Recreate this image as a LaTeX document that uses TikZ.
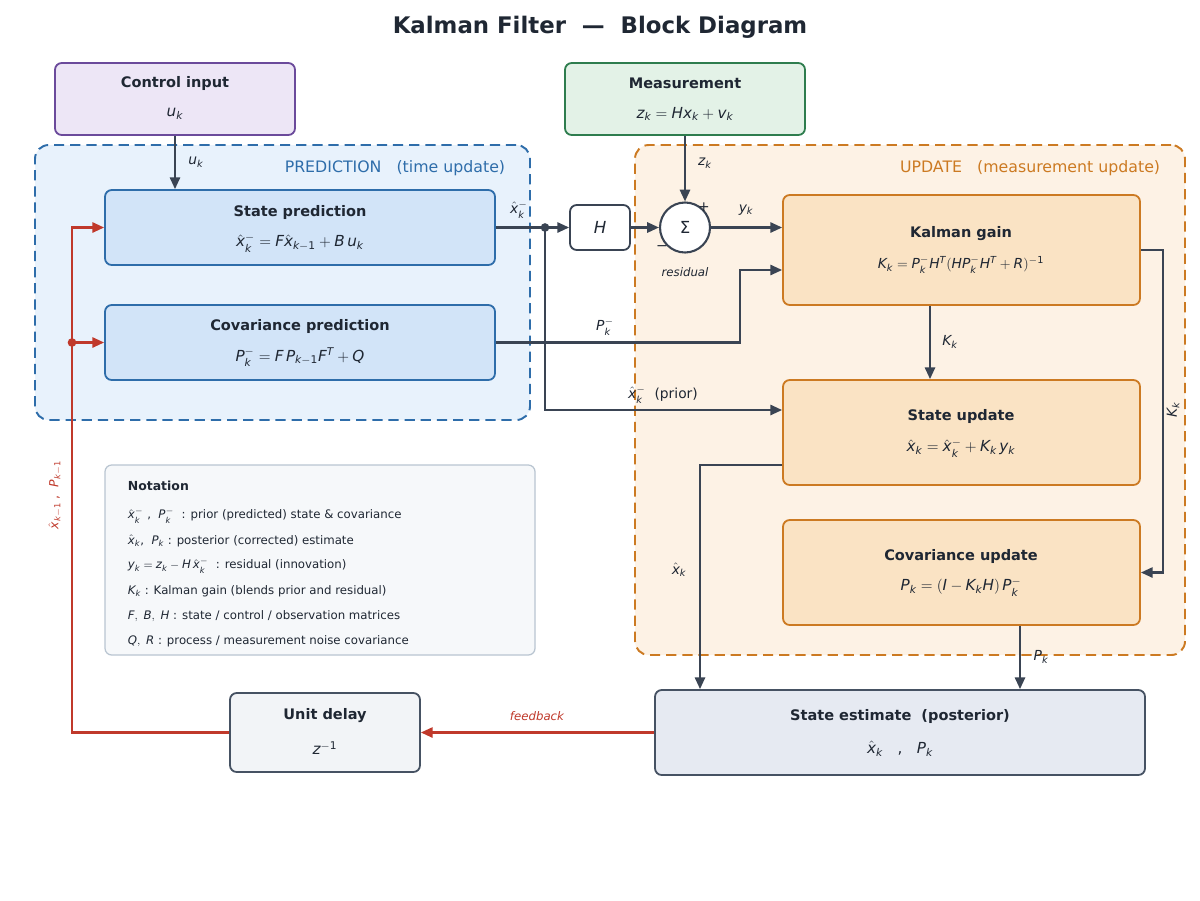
\documentclass[tikz,border=0pt]{standalone}
\usepackage{mathspec}
\setmainfont{DejaVu Sans}
\setmathsfont(Digits,Latin,Greek){DejaVu Sans}
\usepackage{xcolor}
\usepackage{tikz}
\usetikzlibrary{positioning,arrows.meta,fit,calc}
\definecolor{ink}{HTML}{1F2733}
\definecolor{wire}{HTML}{3A4453}
\definecolor{fbred}{HTML}{C0392B}
\definecolor{ctrlfill}{HTML}{EDE6F6}
\definecolor{ctrlline}{HTML}{6B4A9B}
\definecolor{measfill}{HTML}{E3F2E7}
\definecolor{measline}{HTML}{2E7D4E}
\definecolor{predfill}{HTML}{E8F2FC}
\definecolor{predline}{HTML}{2E6DAA}
\definecolor{boxblue}{HTML}{D2E4F8}
\definecolor{updfill}{HTML}{FDF2E5}
\definecolor{updline}{HTML}{CC7A22}
\definecolor{boxorange}{HTML}{FAE3C4}
\definecolor{estfill}{HTML}{E6EAF2}
\definecolor{estline}{HTML}{465263}
\definecolor{delayfill}{HTML}{F2F4F7}
\definecolor{notefill}{HTML}{F6F8FA}
\definecolor{noteline}{HTML}{B9C5D1}
\tikzset{
  box/.style={draw, rounded corners=1.7mm, line width=1.3pt, inner sep=0pt},
  panel/.style={draw, dash pattern=on 2.6mm off 1.5mm, rounded corners=3.5mm, line width=1.4pt, inner sep=0pt},
  wireto/.style={draw=wire, line width=1.6pt, -{Triangle[length=3mm,width=2.6mm]}},
  fbwire/.style={draw=fbred, line width=1.6pt, -{Triangle[length=3mm,width=2.6mm]}},
  ttl/.style={font=\fontsize{10.5}{12}\selectfont\bfseries, text=ink},
  eq/.style={font=\fontsize{11}{13}\selectfont, text=ink},
  lbl/.style={font=\fontsize{10}{12}\selectfont, text=ink},
  note/.style={font=\fontsize{8.5}{10}\selectfont, text=ink, anchor=west},
}
\begin{document}
\begin{tikzpicture}[x=0.254mm, y=-0.254mm]
\useasboundingbox (0,0) rectangle (1200,900);
\fill[white] (0,0) rectangle (1200,900);
\node[font=\fontsize{16.5}{19}\selectfont\bfseries, text=ink] (title) at (600,27) {Kalman Filter \ — \ Block Diagram};
% panels
\node[panel, draw=predline, fill=predfill, fit={(35,145)(530,420)}] (pred) {};
\node[panel, draw=updline, fill=updfill, fit={(635,145)(1185,655)}] (upd) {};
\node[font=\fontsize{11.4}{13}\selectfont, text=predline, anchor=east] (predlbl) at (510,168) {PREDICTION \ \ (time update)};
\node[font=\fontsize{11.4}{13}\selectfont, text=updline, anchor=east] (updlbl) at (1165,168) {UPDATE \ \ (measurement update)};
% inputs
\node[box, draw=ctrlline, fill=ctrlfill, fit={(55,63)(295,135)}] (ctrl) {};
\node[ttl] (ctrl-t) at (175,83) {Control input};
\node[eq] (ctrl-e) at (175,114) {$u_k$};
\node[box, draw=measline, fill=measfill, fit={(565,63)(805,135)}] (meas) {};
\node[ttl] (meas-t) at (685,83) {Measurement};
\node[eq] (meas-e) at (685,114) {$z_k = Hx_k + v_k$};
% prediction blocks
\node[box, draw=predline, fill=boxblue, fit={(105,190)(495,265)}] (spred) {};
\node[ttl] (spred-t) at (300,212) {State prediction};
\node[eq] (spred-e) at (300,243) {$\hat{x}_k^- = F\hat{x}_{k-1} + B\,u_k$};
\node[box, draw=predline, fill=boxblue, fit={(105,305)(495,380)}] (cpred) {};
\node[ttl] (cpred-t) at (300,326) {Covariance prediction};
\node[eq] (cpred-e) at (300,357) {$P_k^- = F\,P_{k-1}F^T + Q$};
% H and sum
\node[box, draw=wire, fill=white, fit={(570,205)(630,250)}] (hblk) {};
\node[font=\fontsize{12}{14}\selectfont, text=ink] (hblk-t) at (hblk.center) {$H$};
\node[circle, draw=wire, fill=white, line width=1.5pt, minimum size=12.7mm, inner sep=0pt,
      font=\fontsize{12}{14}\selectfont, text=ink] (sum) at (685,227.5) {Σ};
\node[lbl] (plus) at (704,207) {+};
\node[lbl] (minus) at (662,248) {−};
\node[font=\fontsize{8.5}{10}\selectfont\itshape, text=ink] (resid) at (685,272) {residual};
% update blocks
\node[box, draw=updline, fill=boxorange, fit={(783,195)(1140,305)}] (kgain) {};
\node[ttl] (kgain-t) at (961,234) {Kalman gain};
\node[eq, font=\fontsize{10}{12}\selectfont] (kgain-e) at (961,265) {$K_k = P_k^- H^T(HP_k^- H^T + R)^{-1}$};
\node[box, draw=updline, fill=boxorange, fit={(783,380)(1140,485)}] (supd) {};
\node[ttl] (supd-t) at (961,416) {State update};
\node[eq] (supd-e) at (961,448) {$\hat{x}_k = \hat{x}_k^- + K_k\,y_k$};
\node[box, draw=updline, fill=boxorange, fit={(783,520)(1140,625)}] (cupd) {};
\node[ttl] (cupd-t) at (961,556) {Covariance update};
\node[eq] (cupd-e) at (961,587) {$P_k = (I - K_kH)\,P_k^-$};
% output and delay
\node[box, draw=estline, fill=estfill, fit={(655,690)(1145,775)}] (est) {};
\node[ttl] (est-t) at (900,716) {State estimate \ (posterior)};
\node[eq] (est-e) at (900,749) {$\hat{x}_k$ \ \ , \ \ $P_k$};
\node[box, draw=estline, fill=delayfill, fit={(230,693)(420,772)}] (delay) {};
\node[ttl] (delay-t) at (325,716) {Unit delay};
\node[eq] (delay-e) at (325,748) {$z^{-1}$};
% notation
\node[box, draw=noteline, fill=notefill, line width=0.9pt, fit={(105,465)(535,655)}] (notes) {};
\node[note, font=\fontsize{9}{11}\selectfont\bfseries] (notes-t) at (123,486) {Notation};
\node[note] (n1) at (123,516) {$\hat{x}_k^-$ , \ $P_k^-$ \ : prior (predicted) state \& covariance};
\node[note] (n2) at (123,541) {$\hat{x}_k$, \ $P_k$ : posterior (corrected) estimate};
\node[note] (n3) at (123,566) {$y_k = z_k - H\,\hat{x}_k^-$ \ : residual (innovation)};
\node[note] (n4) at (123,591) {$K_k$ : Kalman gain (blends prior and residual)};
\node[note] (n5) at (123,616) {$F,\ B,\ H$ : state / control / observation matrices};
\node[note] (n6) at (123,641) {$Q,\ R$ : process / measurement noise covariance};
% connectors
\coordinate (split) at (545,227.5);
\coordinate (fbsplit) at (72,342.5);
\draw[wireto] (ctrl.south) -- (ctrl.south |- spred.north);
\node[lbl] (uk) at (196,162) {$u_k$};
\draw[wireto] (meas.south) -- (sum.north);
\node[lbl] (zk) at (705,163) {$z_k$};
\draw[wireto] (spred.east) -- (hblk.west);
\fill[wire] (split) circle (1.1mm);
\node[lbl] (xpr) at (519,210) {$\hat{x}_k^-$};
\draw[wireto] (hblk.east) -- (sum.west);
\draw[wireto] (sum.east) -- (sum.east -| kgain.west);
\node[lbl] (yk) at (746,210) {$y_k$};
\draw[wireto] (split) |- ($(supd.west)+(0,-22.5)$);
\node[lbl] (prior) at (663,395) {$\hat{x}_k^-$ \ (prior)};
\draw[wireto] (cpred.east) -- (740,342.5) |- ($(kgain.west)+(0,20)$);
\node[lbl] (ppr) at (605,327) {$P_k^-$};
\draw[wireto] ($(kgain.south)+(-31.5,0)$) -- ($(supd.north)+(-31.5,0)$);
\node[lbl] (kk) at (950,342) {$K_k$};
\draw[wireto] (kgain.east) -- ++(22,0) |- (cupd.east);
\node[lbl, rotate=90] (kk2) at (1173,410) {$K_k$};
\draw[wireto] ($(supd.west)+(0,32.5)$) -| ($(est.north)+(-200,0)$);
\node[lbl] (xk) at (679,570) {$\hat{x}_k$};
\draw[wireto] ($(cupd.south)+(58.5,0)$) -- ($(est.north)+(120,0)$);
\node[lbl] (pk) at (1041,657) {$P_k$};
% feedback
\draw[fbwire] (est.west) -- (delay.east);
\node[font=\fontsize{8.5}{10}\selectfont\itshape, text=fbred] (fblbl) at (537,716) {feedback};
\draw[fbwire] (delay.west) -- (72,732.5) |- (spred.west);
\draw[fbwire] (fbsplit) -- (cpred.west);
\fill[fbred] (fbsplit) circle (1.1mm);
\node[font=\fontsize{9}{11}\selectfont, text=fbred, rotate=90] (fbvar) at (55,495) {$\hat{x}_{k-1}$ , \ $P_{k-1}$};
\end{tikzpicture}
\end{document}
